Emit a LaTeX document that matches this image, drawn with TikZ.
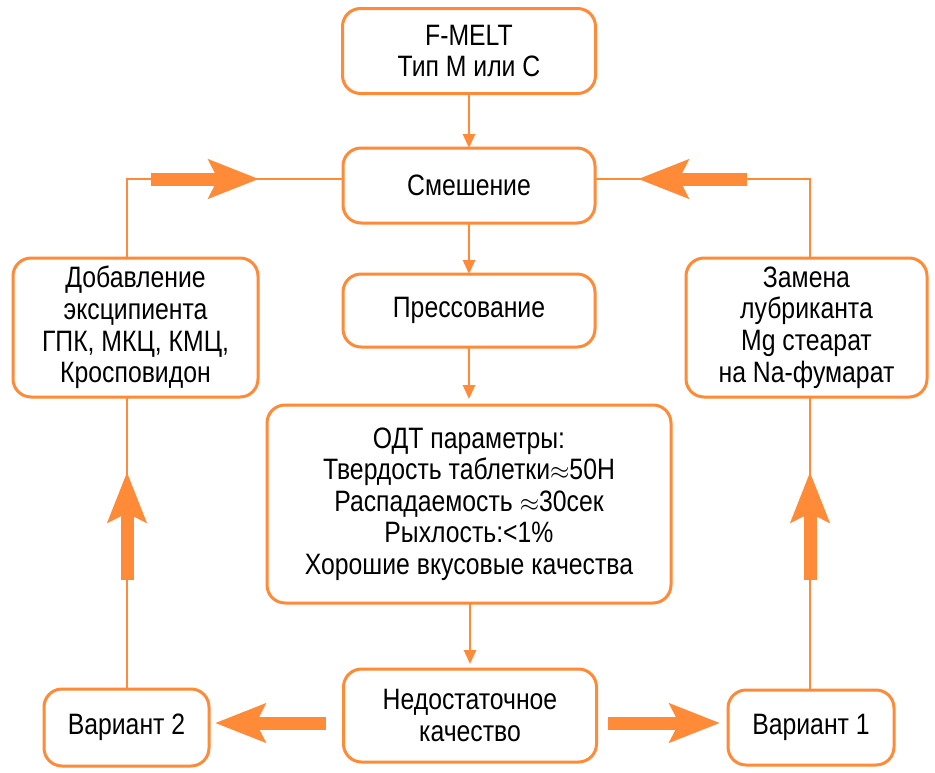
\documentclass[tikz,border=0pt]{standalone}
\usepackage{fontspec}
\setmainfont[FakeStretch=0.84]{Liberation Sans}
\usetikzlibrary{arrows.meta,calc}
\definecolor{org}{RGB}{255,138,56}
\begin{document}
\begin{tikzpicture}[x=1pt,y=-1pt,
  box/.style={draw=org, line width=3pt, rounded corners=18pt, fill=white,
    align=center, inner sep=0pt, outer sep=0pt,
    font=\fontsize{29.5}{31.6}\selectfont},
  conn/.style={draw=org, line width=2.5pt},
  thinarrow/.style={conn, -{Triangle[length=14pt,width=12pt]}},
  bigarrow/.style={draw=org, fill=org, line width=13pt, -{Stealth[length=50pt,width=38pt,inset=9pt]}}]
\useasboundingbox[fill=white] (0,0) rectangle (935,772);

\node[box, minimum width=253pt, minimum height=85pt] (fmelt) at (469,51) {F-MELT\\Тип M или C};
\node[box, minimum width=252pt, minimum height=75pt] (mix) at (469,185.5) {Смешение};
\node[box, minimum width=252pt, minimum height=73pt] (press) at (469,310.5) {Прессование};
\node[box, minimum width=404pt, minimum height=198pt] (odt) at (469,504) {ОДТ параметры:\\Твердость таблетки$\approx$50Н\\Распадаемость $\approx$30сек\\Рыхлость:<1\%\\Хорошие вкусовые качества};
\node[box, minimum width=253pt, minimum height=93pt] (nedo) at (470,715.5) {Недостаточное\\качество};
\node[box, minimum width=165pt, minimum height=77pt] (v2) at (126.5,727.5) {Вариант 2};
\node[box, minimum width=166pt, minimum height=75pt] (v1) at (811,727.5) {Вариант 1};
\node[box, minimum width=245pt, minimum height=139pt] (add) at (135.5,327.5) {Добавление\\эксципиента\\ГПК, МКЦ, КМЦ,\\Кросповидон};
\node[box, minimum width=241pt, minimum height=139pt] (repl) at (806.5,327.5) {Замена\\лубриканта\\Mg стеарат\\на Na-фумарат};

% vertical flow
\draw[thinarrow] (fmelt.south) -- (mix.north);
\draw[thinarrow] (mix.south) -- (press.north);
\draw[thinarrow, shorten >=6pt] (press.south) -- (odt.north);
\draw[thinarrow, shorten >=5pt] (odt.south -| nedo.north) -- (nedo.north);

% side loops
\coordinate (lx) at (127,0);
\coordinate (rx) at (810,0);
\coordinate (ly) at (0,179);
\draw[conn] (v2.north -| lx) -- (add.south -| lx);
\draw[conn] (add.north -| lx) |- (mix.west |- ly);
\draw[conn] (v1.north -| rx) -- (repl.south -| rx);
\draw[conn] (repl.north -| rx) |- (mix.east |- ly);

% big arrows
\coordinate (a1s) at (151,179);  \coordinate (a1e) at (259,179);
\coordinate (a2s) at (747,179);  \coordinate (a2e) at (638,179);
\coordinate (a3s) at (127,580);  \coordinate (a3e) at (127,472);
\coordinate (a4s) at (810,580);  \coordinate (a4e) at (810,472);
\coordinate (a5s) at (326,723);  \coordinate (a5e) at (215,723);
\coordinate (a6s) at (608,723);  \coordinate (a6e) at (720,723);
\draw[bigarrow] (a1s) -- (a1e);
\draw[bigarrow] (a2s) -- (a2e);
\draw[bigarrow] (a3s) -- (a3e);
\draw[bigarrow] (a4s) -- (a4e);
\draw[bigarrow] (a5s) -- (a5e);
\draw[bigarrow] (a6s) -- (a6e);
\end{tikzpicture}
\end{document}
